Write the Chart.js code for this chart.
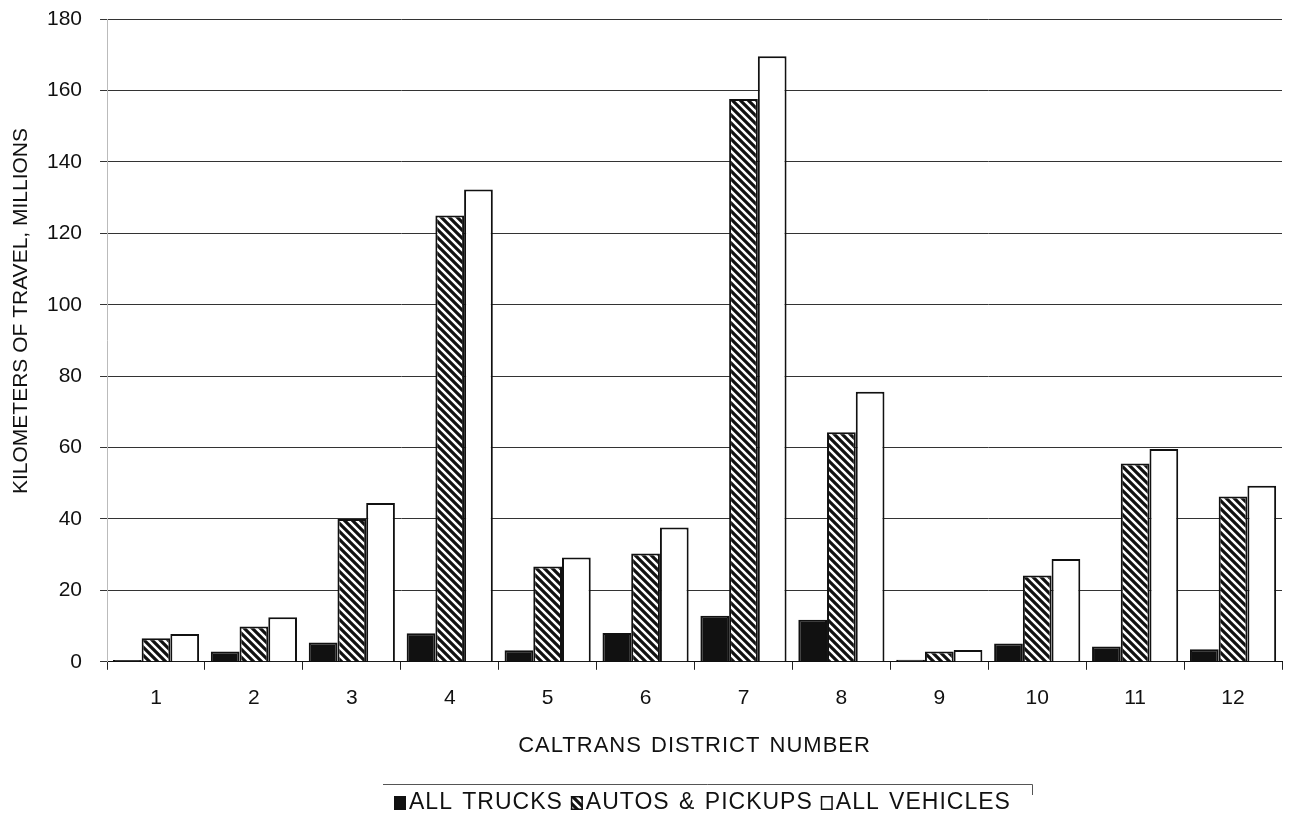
<!DOCTYPE html>
<html>
<head>
<meta charset="utf-8">
<title>Kilometers of travel by Caltrans district</title>
<script src="https://cdn.jsdelivr.net/npm/chart.js@4/dist/chart.umd.min.js"></script>
<style>
  html, body { margin: 0; padding: 0; background: #fff; }
  #wrap { width: 1290px; height: 819px; }
</style>
</head>
<body>
<div id="wrap"><canvas id="chart" width="1290" height="819"></canvas></div>
<script>
/* ---------- Data (millions of km) ---------- */
var DISTRICTS = ['1', '2', '3', '4', '5', '6', '7', '8', '9', '10', '11', '12'];
var ALL_TRUCKS = [0.5, 2.9, 5.4, 8.0, 3.2, 8.1, 12.9, 11.8, 0.6, 5.1, 4.3, 3.5];
var AUTOS_PICKUPS = [6.6, 9.9, 40.0, 125.0, 26.7, 30.3, 157.6, 64.3, 2.9, 24.2, 55.5, 46.3];
var ALL_VEHICLES = [7.8, 12.5, 44.5, 132.3, 29.2, 37.6, 169.6, 75.6, 3.3, 28.8, 59.6, 49.3];
var Y_TICKS = [0, 20, 40, 60, 80, 100, 120, 140, 160, 180];
var Y_TITLE = 'KILOMETERS OF TRAVEL, MILLIONS';
var X_TITLE = 'CALTRANS DISTRICT NUMBER';

(function () {
  'use strict';

  var FONT = "'Liberation Sans', Arial, sans-serif";

  // diagonal "\" hatch used for autos & pickups
  function makeHatch() {
    var c = document.createElement('canvas');
    c.width = 8; c.height = 8;
    var g = c.getContext('2d');
    g.fillStyle = '#fff';
    g.fillRect(0, 0, 8, 8);
    g.strokeStyle = '#111';
    g.lineWidth = 3.2;
    g.beginPath();
    g.moveTo(-2, -2); g.lineTo(10, 10);
    g.moveTo(-6, 2); g.lineTo(2, 10);
    g.moveTo(6, -2); g.lineTo(14, 6);
    g.stroke();
    return g.createPattern(c, 'repeat');
  }

  var ctx = document.getElementById('chart').getContext('2d');
  var hatch = makeHatch();

  // axis titles: the scanned original uses slightly wide lettering and an off-centre y title
  var titles = {
    id: 'titles',
    afterDraw: function (chart) {
      var c = chart.ctx;
      c.save();
      c.fillStyle = '#111';
      c.textAlign = 'center';
      c.textBaseline = 'middle';

      c.font = '21px ' + FONT;
      c.save();
      c.translate(21, 311);
      c.rotate(-Math.PI / 2);
      c.fillText(Y_TITLE, 0, 0);
      c.restore();

      c.font = '22px ' + FONT;
      c.letterSpacing = '1px';
      c.wordSpacing = '2px';
      var a = chart.chartArea;
      c.fillText(X_TITLE, (a.left + a.right) / 2, 746);
      c.restore();
    }
  };

  // boxed legend under the x title (only its top rule survived the scan)
  var legendBox = {
    id: 'legendBox',
    afterDraw: function (chart) {
      var c = chart.ctx;
      c.save();
      c.strokeStyle = '#555';
      c.lineWidth = 1;
      c.beginPath();
      c.moveTo(383, 784.5);
      c.lineTo(1032.5, 784.5);
      c.lineTo(1032.5, 795);
      c.stroke();

      c.font = '23px ' + FONT;
      c.letterSpacing = '1px';
      c.wordSpacing = '2px';
      c.textBaseline = 'middle';
      c.textAlign = 'left';
      var x = 394, yMid = 803;
      chart.data.datasets.forEach(function (ds) {
        c.fillStyle = ds.backgroundColor;
        c.fillRect(x, yMid - 7, 12, 14);
        c.strokeStyle = '#111';
        c.lineWidth = 1.5;
        c.strokeRect(x + 0.75, yMid - 6.25, 10.5, 12.5);
        c.fillStyle = '#111';
        c.fillText(ds.label, x + 15, yMid);
        x += 15 + c.measureText(ds.label).width + 8;
      });
      c.restore();
    }
  };

  new Chart(ctx, {
    type: 'bar',
    data: {
      labels: DISTRICTS,
      datasets: [
        { label: 'ALL TRUCKS', data: ALL_TRUCKS, backgroundColor: '#111', borderColor: '#111', borderWidth: 2 },
        { label: 'AUTOS & PICKUPS', data: AUTOS_PICKUPS, backgroundColor: hatch, borderColor: '#111', borderWidth: 2 },
        { label: 'ALL VEHICLES', data: ALL_VEHICLES, backgroundColor: '#fff', borderColor: '#111', borderWidth: 2 }
      ]
    },
    options: {
      responsive: false,
      animation: false,
      devicePixelRatio: 1,
      layout: { padding: { top: 0, right: 8, left: 29, bottom: 92 } },
      datasets: { bar: { categoryPercentage: 0.88, barPercentage: 1.0, borderSkipped: 'bottom' } },
      plugins: {
        tooltip: { enabled: false },
        legend: { display: false }
      },
      scales: {
        x: {
          grid: { display: true, drawOnChartArea: false, offset: true, tickLength: 8, color: '#222' },
          border: { display: true, color: '#111', width: 1 },
          ticks: { color: '#111', font: { family: FONT, size: 21 }, padding: 16 }
        },
        y: {
          min: 0,
          max: 180,
          afterBuildTicks: function (axis) {
            axis.ticks = Y_TICKS.map(function (v) { return { value: v }; });
          },
          grid: { color: '#333', lineWidth: 1, tickLength: 7 },
          border: { display: true, color: '#bbb', width: 1 },
          ticks: { color: '#111', font: { family: FONT, size: 21, lineHeight: 0.1 }, padding: 18 }
        }
      }
    },
    plugins: [titles, legendBox]
  });
})();
</script>
</body>
</html>
